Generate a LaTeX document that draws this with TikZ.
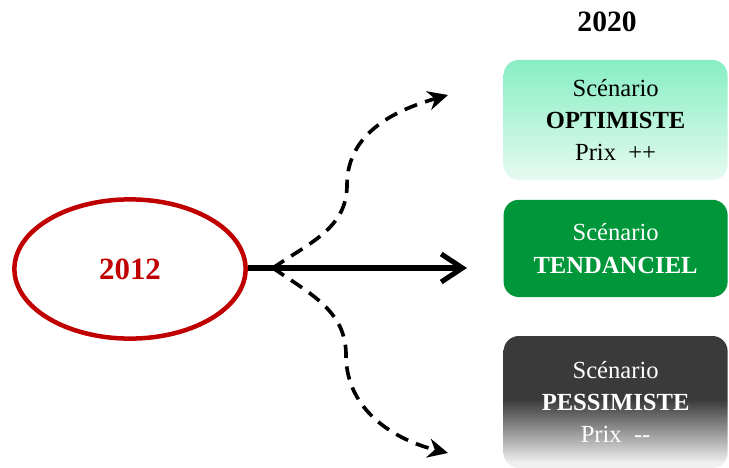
\documentclass[tikz,border=0pt]{standalone}
\usepackage{fontspec}
\setmainfont{Liberation Serif}
\usepackage{tikz}
\usetikzlibrary{arrows.meta,shapes.geometric}

\definecolor{datered}{RGB}{192,0,0}
\definecolor{optitop}{RGB}{135,238,196}
\definecolor{optibot}{RGB}{230,250,241}
\definecolor{tendgreen}{RGB}{0,150,58}
\definecolor{pessgray}{RGB}{58,58,58}
\definecolor{pessbot}{RGB}{240,240,240}

\pgfdeclareverticalshading{pessfade}{100bp}{color(0bp)=(pessbot); color(27bp)=(pessbot); color(51bp)=(pessgray); color(100bp)=(pessgray)}

\begin{document}
\begin{tikzpicture}[
        scenario/.style={rounded corners=0.38cm, minimum width=5.6cm, align=center, font=\fontsize{17.5}{23}\selectfont},
        dasharrow/.style={line width=2.6pt, dash pattern=on 9.5pt off 6pt, -{Stealth[length=5mm, width=4.8mm, inset=1.6mm]}}]
        \useasboundingbox (0,0) rectangle (18.225,-11.7);
        \node [font=\fontsize{21}{24}\selectfont\bfseries] (t2020) at (15.175,-0.55) {2020};
        \node [scenario, minimum height=3cm, top color=optitop, bottom color=optibot] (opt) at (15.39,-3.0) {Scénario\\\textbf{OPTIMISTE}\\Prix~~++};
        \node [scenario, minimum height=2.43cm, fill=tendgreen, text=white] (tend) at (15.39,-6.21) {Scénario\\\textbf{TENDANCIEL}};
        \node [scenario, minimum height=3.3cm, shading=pessfade, text=white] (pess) at (15.39,-10.05) {Scénario\\\textbf{PESSIMISTE}\\Prix~~-{}-};
        \node [ellipse, draw=datered, line width=3.2pt, minimum width=5.78cm, minimum height=3.48cm, text=datered, font=\fontsize{22}{24}\selectfont\bfseries] (d2012) at (3.25,-6.725) {2012};
        \coordinate (fork) at (6.825,-6.7);
        \coordinate (upmid) at (8.675,-4.625);
        \coordinate (upend) at (11.2,-2.375);
        \coordinate (lowmid) at (8.65,-8.875);
        \coordinate (lowend) at (11.2,-11.325);
        \coordinate (tendend) at (11.675,-6.7);
        \draw [line width=3.6pt, -{Straight Barb[length=5.3mm, width=7mm]}] (d2012.east |- fork) -- (tendend);
        \draw [dasharrow] (fork) to[out=35,in=-90] (upmid) to[out=90,in=196] (upend);
        \draw [dasharrow] (fork) to[out=-35,in=90] (lowmid) to[out=-90,in=166] (lowend);
\end{tikzpicture}
\end{document}
